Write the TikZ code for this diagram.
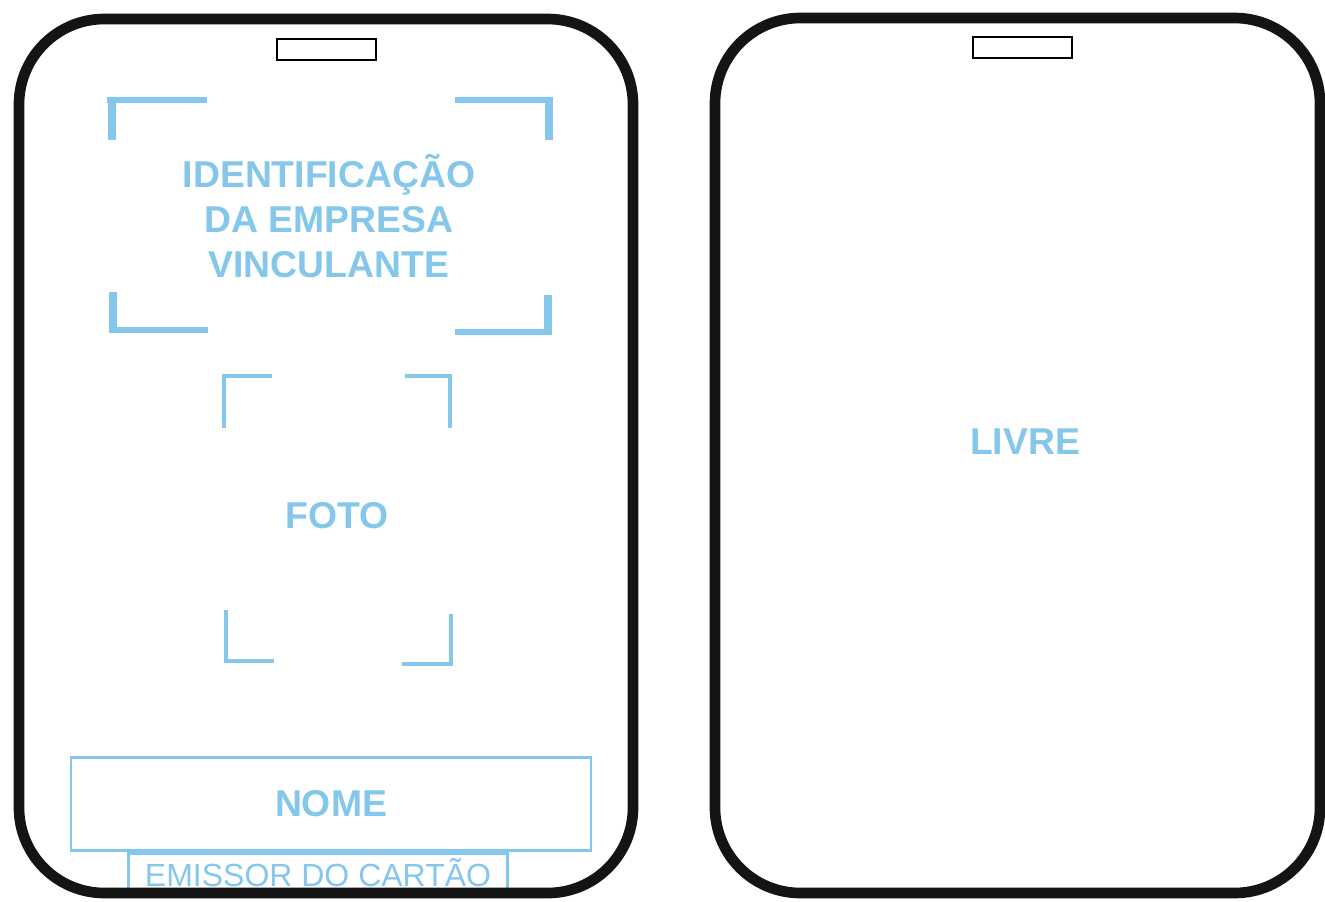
\documentclass[tikz,border=0pt]{standalone}
\usepackage{fontspec}
\setmainfont{Liberation Sans}
\definecolor{cardblue}{RGB}{133,199,234}

\begin{document}
\begin{tikzpicture}[x=0.75pt, y=-0.75pt,
		cardline/.style={line width=8pt, rounded corners=64pt, color=black!92},
		slot/.style={line width=2.2pt},
		corner/.style={line width=5pt, color=cardblue},
		photocorner/.style={line width=3.6pt, color=cardblue},
		bluetext/.style={color=cardblue, font=\fontsize{28}{33.75}\selectfont\bfseries, align=center, inner sep=0pt},
		bluebox/.style={draw=cardblue, line width=2.2pt, inner sep=0pt}]
			%%%%% START %%%%%
			\useasboundingbox (0, 0) rectangle (1325, 901);
			\fill[white] (0, 0) rectangle (1325, 901);
			
			% company corners
			\draw[corner] (107, 100) -- (207, 100);
			\draw[corner, line width=6.5pt] (112, 98) -- (112, 140);
			\draw[corner] (455, 100) -- (553, 100);
			\draw[corner, line width=6.5pt] (549, 98) -- (549, 140);
			\draw[corner, line width=6.5pt] (113, 292) -- (113, 333);
			\draw[corner] (110, 330) -- (208, 330);
			\draw[corner, line width=6.5pt] (548, 295) -- (548, 335);
			\draw[corner] (455, 332) -- (551, 332);
			\node[bluetext] (empresa) at (329, 216) {IDENTIFICAÇÃO\\DA EMPRESA\\VINCULANTE};
			
			% photo corners
			\draw[photocorner] (224, 428) -- (224, 376) -- (272, 376);
			\draw[photocorner] (405, 376) -- (450, 376) -- (450, 428);
			\draw[photocorner] (226, 610) -- (226, 661) -- (274, 661);
			\draw[photocorner] (451, 614) -- (451, 664) -- (402, 664);
			\node[bluetext] (foto) at (337, 516) {FOTO};
			
			% name and issuer
			\node[bluebox, bluetext, minimum width=390pt, minimum height=70pt] (nome) at (331, 804) {NOME};
			\node[bluebox, color=cardblue, font=\fontsize{24}{28}\selectfont, minimum width=284pt, minimum height=29pt, anchor=north] (emissor) at (nome.south -| 318, 0) {EMISSOR DO CARTÃO};
			
			% back side
			\node[bluetext] (livre) at (1025, 442) {LIVRE};
			
			% cards
			\draw[cardline] (19, 19) rectangle (633, 893);
			\draw[slot] (277, 39) rectangle (376, 60);
			\draw[cardline] (715, 18) rectangle (1320, 893);
			\draw[slot] (973, 37) rectangle (1072, 58);
			%%%%% END %%%%%
\end{tikzpicture}
\end{document}
